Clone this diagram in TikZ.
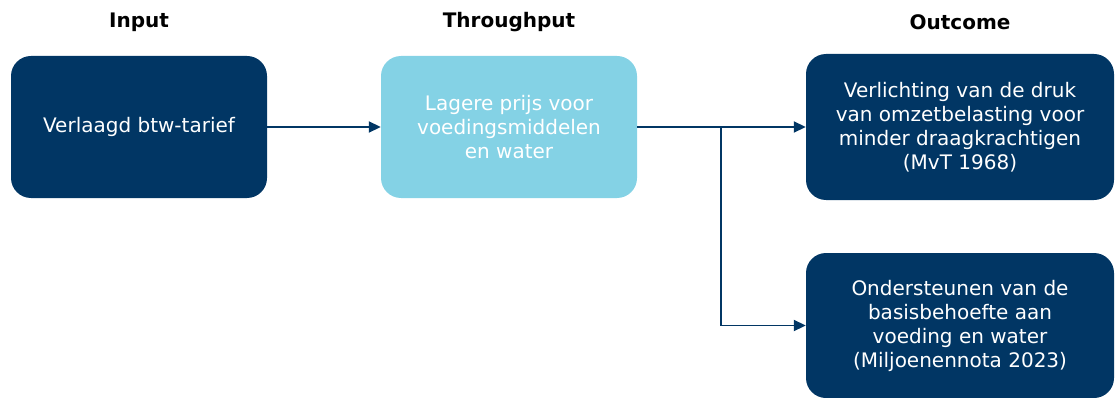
\documentclass[tikz,border=0pt]{standalone}
\usepackage{fontspec}
\setmainfont{DejaVu Sans}
\usepackage{tikz}
\usetikzlibrary{arrows.meta}
\definecolor{darkblue}{RGB}{1,54,100}
\definecolor{lightblue}{RGB}{132,210,229}

\begin{document}
\begin{tikzpicture}[x=1pt,y=-1pt,
  box/.style={rectangle,rounded corners=20pt,text=white,align=center,
    font=\fontsize{20}{24}\selectfont,inner sep=0pt},
  head/.style={font=\fontsize{20}{24}\selectfont\bfseries},
  link/.style={darkblue,line width=1.8pt,-{Triangle[length=12pt,width=11pt]}}]

\useasboundingbox (0,0) rectangle (1115,398);

\def\xa{139}
\def\xb{509}
\def\xc{960}
\def\xk{721}

\node[head] (hin) at (\xa,22) {Input};
\node[head] (hthr) at (\xb,22) {Throughput};
\node[head] (hout) at (\xc,22) {Outcome};

\node[box,fill=darkblue,minimum width=256pt,minimum height=142pt] (inp) at (\xa,127) {Verlaagd btw-tarief};
\node[box,fill=lightblue,minimum width=256pt,minimum height=142pt] (thr) at (\xb,127) {Lagere prijs voor\\voedingsmiddelen\\en water};
\node[box,fill=darkblue,minimum width=308pt,minimum height=146pt] (outa) at (\xc,127) {Verlichting van de druk\\van omzetbelasting voor\\minder draagkrachtigen\\(MvT 1968)};
\node[box,fill=darkblue,minimum width=308pt,minimum height=145pt] (outb) at (\xc,325.5) {Ondersteunen van de\\basisbehoefte aan\\voeding en water\\(Miljoenennota 2023)};

\coordinate (split) at (\xk,127);

\draw[link] (inp) -- (thr);
\draw[link] (thr) -- (outa);
\draw[link] (split) |- (outb);
\end{tikzpicture}
\end{document}
